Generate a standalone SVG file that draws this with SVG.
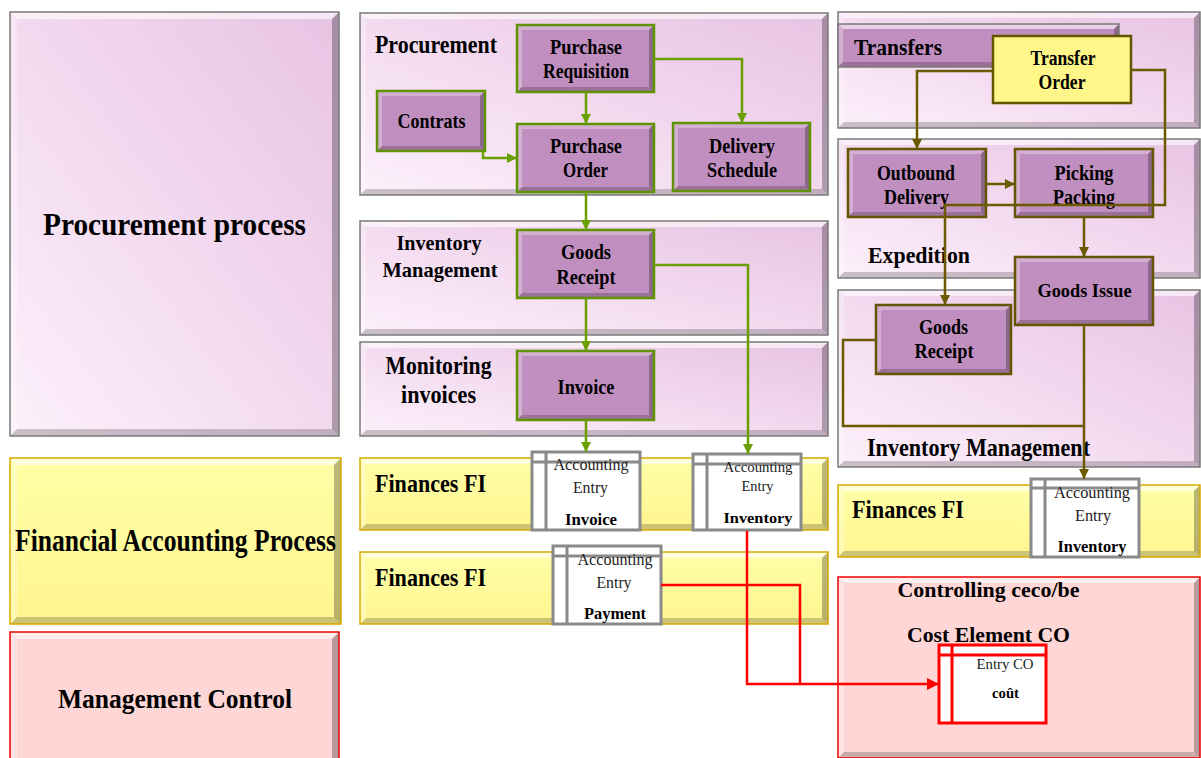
<svg xmlns="http://www.w3.org/2000/svg" width="1201" height="758" viewBox="0 0 1201 758">
<style>
  text { font-family: "Liberation Serif", "Times New Roman", serif; }
  .b { font-weight: bold; fill: #000; }
  .r { font-weight: normal; fill: #222; }
  .mid { text-anchor: middle; }
  .hi { fill: #ffffff; opacity: 0.6; }
  .hl { fill: #ffffff; opacity: 0.3; }
  .sr { fill: #000000; opacity: 0.28; }
  .sb { fill: #000000; opacity: 0.2; }
  .pan { fill: url(#gPurple); }
  .panS { fill: none; stroke: #7a7a7a; stroke-width: 1.5; }
  .yel { fill: url(#gYellow); }
  .yelS { fill: none; stroke: #d9a900; stroke-width: 1.5; }
  .pink { fill: #ffd6d6; }
  .pinkS { fill: none; stroke: #ee0000; stroke-width: 1.5; }
  .nd { fill: #c18fbf; }
  .ndG { fill: none; stroke: #5f9300; stroke-width: 2.5; }
  .ndO { fill: none; stroke: #665500; stroke-width: 2.5; }
  .ae { fill: #ffffff; stroke: #8a8a8a; stroke-width: 3; }
  .aeL { fill: none; stroke: #8a8a8a; stroke-width: 3; }
  .co { fill: #ffffff; stroke: #ff0000; stroke-width: 3; }
  .coL { fill: none; stroke: #ff0000; stroke-width: 3; }
  .cg { fill: none; stroke: #6a9f00; stroke-width: 2.5; }
  .cb { fill: none; stroke: #6b5a00; stroke-width: 2.5; }
  .cr { fill: none; stroke: #ff0000; stroke-width: 2.5; }
</style>
<defs>
  <linearGradient id="gPurple" x1="0" y1="1" x2="1" y2="0">
    <stop offset="0" stop-color="#fdf0fb"/>
    <stop offset="1" stop-color="#e8c3e3"/>
  </linearGradient>
  <linearGradient id="gYellow" x1="0" y1="0" x2="0" y2="1">
    <stop offset="0" stop-color="#ffffa6"/>
    <stop offset="1" stop-color="#fff590"/>
  </linearGradient>
  <marker id="mG" viewBox="0 0 10 10" refX="10" refY="5" markerWidth="10" markerHeight="10" markerUnits="userSpaceOnUse" orient="auto">
    <path d="M0,0 L10,5 L0,10 z" fill="#6a9f00"/>
  </marker>
  <marker id="mB" viewBox="0 0 10 10" refX="10" refY="5" markerWidth="10" markerHeight="10" markerUnits="userSpaceOnUse" orient="auto">
    <path d="M0,0 L10,5 L0,10 z" fill="#6b5a00"/>
  </marker>
  <marker id="mR" viewBox="0 0 10 10" refX="10" refY="5" markerWidth="12" markerHeight="12" markerUnits="userSpaceOnUse" orient="auto">
    <path d="M0,0 L10,5 L0,10 z" fill="#ff0000"/>
  </marker>
</defs>
<rect width="1201" height="758" fill="#ffffff"/>

<!-- left column: process lanes -->
<g id="lane-procurement-process">
  <rect class="pan" x="10" y="12" width="329" height="424"/>
  <polygon class="hi" points="10,12 339,12 332,19 17,19"/>
  <polygon class="hl" points="10,12 17,19 17,429 10,436"/>
  <polygon class="sr" points="339,12 339,436 332,429 332,19"/>
  <polygon class="sb" points="10,436 339,436 332,429 17,429"/>
  <rect class="panS" x="10" y="12" width="329" height="424" stroke="#555"/>
  <text class="b mid" x="174.5" y="235" font-size="32" textLength="263" lengthAdjust="spacingAndGlyphs">Procurement process</text>
</g>
<g id="lane-financial-accounting">
  <rect class="yel" x="10" y="458" width="331" height="166"/>
  <polygon class="hi" points="10,458 341,458 334,465 17,465"/>
  <polygon class="hl" points="10,458 17,465 17,617 10,624"/>
  <polygon class="sr" points="341,458 341,624 334,617 334,465"/>
  <polygon class="sb" points="10,624 341,624 334,617 17,617"/>
  <rect class="yelS" x="10" y="458" width="331" height="166"/>
  <text class="b mid" x="175.5" y="551" font-size="32" textLength="321" lengthAdjust="spacingAndGlyphs">Financial Accounting Process</text>
</g>
<g id="lane-management-control">
  <rect class="pink" x="10" y="632" width="329" height="130"/>
  <polygon class="hi" points="10,632 339,632 332,639 17,639"/>
  <polygon class="hl" points="10,632 17,639 17,762 10,762"/>
  <polygon class="sr" points="339,632 339,762 332,762 332,639"/>
  <rect class="pinkS" x="10" y="632" width="329" height="130"/>
  <text class="b mid" x="175" y="708" font-size="27" textLength="234" lengthAdjust="spacingAndGlyphs">Management Control</text>
</g>

<!-- middle column panels -->
<g id="panel-procurement">
  <rect class="pan" x="360" y="13" width="468" height="182"/>
  <polygon class="hi" points="360,13 828,13 822,19 366,19"/>
  <polygon class="hl" points="360,13 366,19 366,189 360,195"/>
  <polygon class="sr" points="828,13 828,195 822,189 822,19"/>
  <polygon class="sb" points="360,195 828,195 822,189 366,189"/>
  <rect class="panS" x="360" y="13" width="468" height="182"/>
  <text class="b" x="375" y="53" font-size="25" textLength="122" lengthAdjust="spacingAndGlyphs">Procurement</text>
</g>
<g id="panel-inventory-mgmt">
  <rect class="pan" x="360" y="221" width="468" height="114"/>
  <polygon class="hi" points="360,221 828,221 822,227 366,227"/>
  <polygon class="hl" points="360,221 366,227 366,329 360,335"/>
  <polygon class="sr" points="828,221 828,335 822,329 822,227"/>
  <polygon class="sb" points="360,335 828,335 822,329 366,329"/>
  <rect class="panS" x="360" y="221" width="468" height="114"/>
  <text class="b mid" x="439" y="250" font-size="21" textLength="85" lengthAdjust="spacingAndGlyphs">Inventory</text>
  <text class="b mid" x="440" y="277" font-size="21" textLength="115" lengthAdjust="spacingAndGlyphs">Management</text>
</g>
<g id="panel-monitoring">
  <rect class="pan" x="360" y="342" width="468" height="94"/>
  <polygon class="hi" points="360,342 828,342 822,348 366,348"/>
  <polygon class="hl" points="360,342 366,348 366,430 360,436"/>
  <polygon class="sr" points="828,342 828,436 822,430 822,348"/>
  <polygon class="sb" points="360,436 828,436 822,430 366,430"/>
  <rect class="panS" x="360" y="342" width="468" height="94"/>
  <text class="b mid" x="438.5" y="374" font-size="25" textLength="106" lengthAdjust="spacingAndGlyphs">Monitoring</text>
  <text class="b mid" x="438.5" y="403" font-size="25" textLength="75" lengthAdjust="spacingAndGlyphs">invoices</text>
</g>
<g id="panel-finances-1">
  <rect class="yel" x="360" y="458" width="468" height="72"/>
  <polygon class="hi" points="360,458 828,458 822,464 366,464"/>
  <polygon class="hl" points="360,458 366,464 366,524 360,530"/>
  <polygon class="sr" points="828,458 828,530 822,524 822,464"/>
  <polygon class="sb" points="360,530 828,530 822,524 366,524"/>
  <rect class="yelS" x="360" y="458" width="468" height="72"/>
  <text class="b" x="375" y="492" font-size="25" textLength="111" lengthAdjust="spacingAndGlyphs">Finances FI</text>
</g>
<g id="panel-finances-2">
  <rect class="yel" x="360" y="552" width="468" height="72"/>
  <polygon class="hi" points="360,552 828,552 822,558 366,558"/>
  <polygon class="hl" points="360,552 366,558 366,618 360,624"/>
  <polygon class="sr" points="828,552 828,624 822,618 822,558"/>
  <polygon class="sb" points="360,624 828,624 822,618 366,618"/>
  <rect class="yelS" x="360" y="552" width="468" height="72"/>
  <text class="b" x="375" y="586" font-size="25" textLength="111" lengthAdjust="spacingAndGlyphs">Finances FI</text>
</g>

<!-- right column panels -->
<g id="panel-transfers">
  <rect class="pan" x="838" y="12" width="362" height="116"/>
  <polygon class="hi" points="838,12 1200,12 1194,18 844,18"/>
  <polygon class="hl" points="838,12 844,18 844,122 838,128"/>
  <polygon class="sr" points="1200,12 1200,128 1194,122 1194,18"/>
  <polygon class="sb" points="838,128 1200,128 1194,122 844,122"/>
  <rect class="panS" x="838" y="12" width="362" height="116"/>
  <rect class="nd" x="838" y="24" width="281" height="43"/>
  <polygon class="hi" points="838,24 1119,24 1114,29 843,29"/>
  <polygon class="hl" points="838,24 843,29 843,62 838,67"/>
  <polygon class="sr" points="1119,24 1119,67 1114,62 1114,29"/>
  <polygon class="sb" points="838,67 1119,67 1114,62 843,62"/>
  <rect class="panS" x="838" y="24" width="281" height="43"/>
  <text class="b" x="854" y="55" font-size="24" textLength="88" lengthAdjust="spacingAndGlyphs">Transfers</text>
</g>
<g id="panel-expedition">
  <rect class="pan" x="838" y="139" width="362" height="139"/>
  <polygon class="hi" points="838,139 1200,139 1194,145 844,145"/>
  <polygon class="hl" points="838,139 844,145 844,272 838,278"/>
  <polygon class="sr" points="1200,139 1200,278 1194,272 1194,145"/>
  <polygon class="sb" points="838,278 1200,278 1194,272 844,272"/>
  <rect class="panS" x="838" y="139" width="362" height="139"/>
  <text class="b" x="868" y="263" font-size="23" textLength="102" lengthAdjust="spacingAndGlyphs">Expedition</text>
</g>
<g id="panel-inventory-mgmt-2">
  <rect class="pan" x="838" y="290" width="362" height="177"/>
  <polygon class="hi" points="838,290 1200,290 1194,296 844,296"/>
  <polygon class="hl" points="838,290 844,296 844,461 838,467"/>
  <polygon class="sr" points="1200,290 1200,467 1194,461 1194,296"/>
  <polygon class="sb" points="838,467 1200,467 1194,461 844,461"/>
  <rect class="panS" x="838" y="290" width="362" height="177"/>
  <text class="b" x="867" y="456" font-size="26" textLength="223" lengthAdjust="spacingAndGlyphs">Inventory Management</text>
</g>
<g id="panel-finances-3">
  <rect class="yel" x="838" y="485" width="362" height="72"/>
  <polygon class="hi" points="838,485 1200,485 1194,491 844,491"/>
  <polygon class="hl" points="838,485 844,491 844,551 838,557"/>
  <polygon class="sr" points="1200,485 1200,557 1194,551 1194,491"/>
  <polygon class="sb" points="838,557 1200,557 1194,551 844,551"/>
  <rect class="yelS" x="838" y="485" width="362" height="72"/>
  <text class="b" x="852" y="518" font-size="25" textLength="112" lengthAdjust="spacingAndGlyphs">Finances FI</text>
</g>
<g id="panel-controlling">
  <rect class="pink" x="838" y="577" width="362" height="181"/>
  <polygon class="hi" points="838,577 1200,577 1194,583 844,583"/>
  <polygon class="hl" points="838,577 844,583 844,752 838,758"/>
  <polygon class="sr" points="1200,577 1200,758 1194,752 1194,583"/>
  <polygon class="sb" points="838,758 1200,758 1194,752 844,752"/>
  <rect class="pinkS" x="838" y="577" width="362" height="181"/>
  <text class="b mid" x="988.5" y="597" font-size="22" textLength="182" lengthAdjust="spacingAndGlyphs">Controlling ceco/be</text>
  <text class="b mid" x="988.5" y="642" font-size="22" textLength="163" lengthAdjust="spacingAndGlyphs">Cost Element CO</text>
</g>

<!-- process step nodes -->
<g id="node-purchase-requisition">
  <rect class="nd" x="517" y="25" width="137" height="67"/>
  <polygon class="hl" points="517,25 654,25 649,30 522,30"/>
  <polygon class="hl" points="517,25 522,30 522,87 517,92"/>
  <polygon class="sr" points="654,25 654,92 649,87 649,30"/>
  <polygon class="sb" points="517,92 654,92 649,87 522,87"/>
  <rect class="ndG" x="517" y="25" width="137" height="67"/>
  <text class="b mid" x="586" y="54" font-size="20.5" textLength="72" lengthAdjust="spacingAndGlyphs">Purchase</text>
  <text class="b mid" x="586" y="78" font-size="20.5" textLength="86" lengthAdjust="spacingAndGlyphs">Requisition</text>
</g>
<g id="node-contrats">
  <rect class="nd" x="377" y="91" width="108" height="60"/>
  <polygon class="hl" points="377,91 485,91 480,96 382,96"/>
  <polygon class="hl" points="377,91 382,96 382,146 377,151"/>
  <polygon class="sr" points="485,91 485,151 480,146 480,96"/>
  <polygon class="sb" points="377,151 485,151 480,146 382,146"/>
  <rect class="ndG" x="377" y="91" width="108" height="60"/>
  <text class="b mid" x="431.5" y="128" font-size="20.5" textLength="68" lengthAdjust="spacingAndGlyphs">Contrats</text>
</g>
<g id="node-purchase-order">
  <rect class="nd" x="517" y="124" width="137" height="68"/>
  <polygon class="hl" points="517,124 654,124 649,129 522,129"/>
  <polygon class="hl" points="517,124 522,129 522,187 517,192"/>
  <polygon class="sr" points="654,124 654,192 649,187 649,129"/>
  <polygon class="sb" points="517,192 654,192 649,187 522,187"/>
  <rect class="ndG" x="517" y="124" width="137" height="68"/>
  <text class="b mid" x="586" y="153" font-size="20.5" textLength="72" lengthAdjust="spacingAndGlyphs">Purchase</text>
  <text class="b mid" x="585.5" y="177" font-size="20.5" textLength="45" lengthAdjust="spacingAndGlyphs">Order</text>
</g>
<g id="node-delivery-schedule">
  <rect class="nd" x="673" y="123" width="137" height="68"/>
  <polygon class="hl" points="673,123 810,123 805,128 678,128"/>
  <polygon class="hl" points="673,123 678,128 678,186 673,191"/>
  <polygon class="sr" points="810,123 810,191 805,186 805,128"/>
  <polygon class="sb" points="673,191 810,191 805,186 678,186"/>
  <rect class="ndG" x="673" y="123" width="137" height="68"/>
  <text class="b mid" x="742" y="153" font-size="20.5" textLength="66" lengthAdjust="spacingAndGlyphs">Delivery</text>
  <text class="b mid" x="742" y="177" font-size="20.5" textLength="70" lengthAdjust="spacingAndGlyphs">Schedule</text>
</g>
<g id="node-goods-receipt">
  <rect class="nd" x="517" y="230" width="137" height="68"/>
  <polygon class="hl" points="517,230 654,230 649,235 522,235"/>
  <polygon class="hl" points="517,230 522,235 522,293 517,298"/>
  <polygon class="sr" points="654,230 654,298 649,293 649,235"/>
  <polygon class="sb" points="517,298 654,298 649,293 522,293"/>
  <rect class="ndG" x="517" y="230" width="137" height="68"/>
  <text class="b mid" x="586" y="259" font-size="20.5" textLength="50" lengthAdjust="spacingAndGlyphs">Goods</text>
  <text class="b mid" x="586" y="284" font-size="20.5" textLength="59" lengthAdjust="spacingAndGlyphs">Receipt</text>
</g>
<g id="node-invoice">
  <rect class="nd" x="517" y="351" width="137" height="69"/>
  <polygon class="hl" points="517,351 654,351 649,356 522,356"/>
  <polygon class="hl" points="517,351 522,356 522,415 517,420"/>
  <polygon class="sr" points="654,351 654,420 649,415 649,356"/>
  <polygon class="sb" points="517,420 654,420 649,415 522,415"/>
  <rect class="ndG" x="517" y="351" width="137" height="69"/>
  <text class="b mid" x="586" y="394" font-size="20.5" textLength="57" lengthAdjust="spacingAndGlyphs">Invoice</text>
</g>
<g id="node-transfer-order">
  <rect x="993" y="36" width="138" height="67" fill="#fff68a" stroke="#665500" stroke-width="2.5"/>
  <text class="b mid" x="1063" y="65" font-size="20.5" textLength="65" lengthAdjust="spacingAndGlyphs">Transfer</text>
  <text class="b mid" x="1062" y="89" font-size="20.5" textLength="47" lengthAdjust="spacingAndGlyphs">Order</text>
</g>
<g id="node-outbound-delivery">
  <rect class="nd" x="848" y="149" width="138" height="68"/>
  <polygon class="hl" points="848,149 986,149 981,154 853,154"/>
  <polygon class="hl" points="848,149 853,154 853,212 848,217"/>
  <polygon class="sr" points="986,149 986,217 981,212 981,154"/>
  <polygon class="sb" points="848,217 986,217 981,212 853,212"/>
  <rect class="ndO" x="848" y="149" width="138" height="68"/>
  <text class="b mid" x="916" y="180" font-size="20.5" textLength="78" lengthAdjust="spacingAndGlyphs">Outbound</text>
  <text class="b mid" x="916.5" y="204" font-size="20.5" textLength="65" lengthAdjust="spacingAndGlyphs">Delivery</text>
</g>
<g id="node-picking-packing">
  <rect class="nd" x="1015" y="149" width="138" height="68"/>
  <polygon class="hl" points="1015,149 1153,149 1148,154 1020,154"/>
  <polygon class="hl" points="1015,149 1020,154 1020,212 1015,217"/>
  <polygon class="sr" points="1153,149 1153,217 1148,212 1148,154"/>
  <polygon class="sb" points="1015,217 1153,217 1148,212 1020,212"/>
  <rect class="ndO" x="1015" y="149" width="138" height="68"/>
  <text class="b mid" x="1084" y="180" font-size="20.5" textLength="59" lengthAdjust="spacingAndGlyphs">Picking</text>
  <text class="b mid" x="1084" y="204" font-size="20.5" textLength="62" lengthAdjust="spacingAndGlyphs">Packing</text>
</g>
<g id="node-goods-issue">
  <rect class="nd" x="1015" y="257" width="138" height="68"/>
  <polygon class="hl" points="1015,257 1153,257 1148,262 1020,262"/>
  <polygon class="hl" points="1015,257 1020,262 1020,320 1015,325"/>
  <polygon class="sr" points="1153,257 1153,325 1148,320 1148,262"/>
  <polygon class="sb" points="1015,325 1153,325 1148,320 1020,320"/>
  <rect class="ndO" x="1015" y="257" width="138" height="68"/>
  <text class="b mid" x="1084.5" y="297" font-size="19.5" textLength="94" lengthAdjust="spacingAndGlyphs">Goods Issue</text>
</g>
<g id="node-goods-receipt-2">
  <rect class="nd" x="876" y="305" width="135" height="69"/>
  <polygon class="hl" points="876,305 1011,305 1006,310 881,310"/>
  <polygon class="hl" points="876,305 881,310 881,369 876,374"/>
  <polygon class="sr" points="1011,305 1011,374 1006,369 1006,310"/>
  <polygon class="sb" points="876,374 1011,374 1006,369 881,369"/>
  <rect class="ndO" x="876" y="305" width="135" height="69"/>
  <text class="b mid" x="943.5" y="334" font-size="20.5" textLength="49" lengthAdjust="spacingAndGlyphs">Goods</text>
  <text class="b mid" x="944" y="358" font-size="20.5" textLength="59" lengthAdjust="spacingAndGlyphs">Receipt</text>
</g>

<!-- accounting documents -->
<g id="entry-invoice">
  <rect class="ae" x="532" y="452" width="108" height="78"/>
  <path class="aeL" d="M546,452 V530 M532,462 H640"/>
  <text class="r mid" x="591" y="470" font-size="16" textLength="75" lengthAdjust="spacingAndGlyphs">Accounting</text>
  <text class="r mid" x="590.5" y="493" font-size="16" textLength="35" lengthAdjust="spacingAndGlyphs">Entry</text>
  <text class="b mid" x="591" y="525" font-size="16" textLength="52" lengthAdjust="spacingAndGlyphs">Invoice</text>
</g>
<g id="entry-inventory">
  <rect class="ae" x="693" y="454" width="108" height="76"/>
  <path class="aeL" d="M707,454 V530 M693,464 H801"/>
  <text class="r mid" x="758" y="472" font-size="15" textLength="69" lengthAdjust="spacingAndGlyphs">Accounting</text>
  <text class="r mid" x="757.5" y="491" font-size="15" textLength="32" lengthAdjust="spacingAndGlyphs">Entry</text>
  <text class="b mid" x="758" y="523" font-size="15.5" textLength="69" lengthAdjust="spacingAndGlyphs">Inventory</text>
</g>
<g id="entry-payment">
  <rect class="ae" x="553" y="546" width="108" height="78"/>
  <path class="aeL" d="M567,546 V624 M553,556 H661"/>
  <text class="r mid" x="615" y="565" font-size="16" textLength="75" lengthAdjust="spacingAndGlyphs">Accounting</text>
  <text class="r mid" x="614" y="588" font-size="16" textLength="35" lengthAdjust="spacingAndGlyphs">Entry</text>
  <text class="b mid" x="615" y="619" font-size="16" textLength="62" lengthAdjust="spacingAndGlyphs">Payment</text>
</g>
<g id="entry-inventory-2">
  <rect class="ae" x="1031" y="479" width="108" height="78"/>
  <path class="aeL" d="M1045,479 V557 M1031,488 H1139"/>
  <text class="r mid" x="1092" y="498" font-size="16" textLength="76" lengthAdjust="spacingAndGlyphs">Accounting</text>
  <text class="r mid" x="1093" y="521" font-size="16" textLength="36" lengthAdjust="spacingAndGlyphs">Entry</text>
  <text class="b mid" x="1092" y="552" font-size="16" textLength="69" lengthAdjust="spacingAndGlyphs">Inventory</text>
</g>
<g id="entry-co">
  <rect class="co" x="939" y="645" width="107" height="78"/>
  <path class="coL" d="M952,645 V723 M939,655 H1046"/>
  <text class="r mid" x="1005" y="669" font-size="15" textLength="57" lengthAdjust="spacingAndGlyphs">Entry CO</text>
  <text class="b mid" x="1005.5" y="698" font-size="15" textLength="27" lengthAdjust="spacingAndGlyphs">coût</text>
</g>

<!-- connectors -->
<g id="connectors">
  <path class="cg" d="M654,59 H742 V123" marker-end="url(#mG)"/>
  <path class="cg" d="M586,92 V124" marker-end="url(#mG)"/>
  <path class="cg" d="M483,151 V158 H517" marker-end="url(#mG)"/>
  <path class="cg" d="M586,192 V230" marker-end="url(#mG)"/>
  <path class="cg" d="M654,265 H748 V454" marker-end="url(#mG)"/>
  <path class="cg" d="M586,298 V351" marker-end="url(#mG)"/>
  <path class="cg" d="M586,420 V452" marker-end="url(#mG)"/>

  <path class="cb" d="M993,71 H917 V149" marker-end="url(#mB)"/>
  <path class="cb" d="M1131,70 H1165 V205 H945 V305" marker-end="url(#mB)"/>
  <path class="cb" d="M986,184 H1015" marker-end="url(#mB)"/>
  <path class="cb" d="M1084,217 V257" marker-end="url(#mB)"/>
  <path class="cb" d="M876,340 H843 V426 H1084"/>
  <path class="cb" d="M1084,325 V479" marker-end="url(#mB)"/>

  <path class="cr" d="M747,531 V684 H939" marker-end="url(#mR)"/>
  <path class="cr" d="M661,585 H800 V684"/>
</g>
</svg>
